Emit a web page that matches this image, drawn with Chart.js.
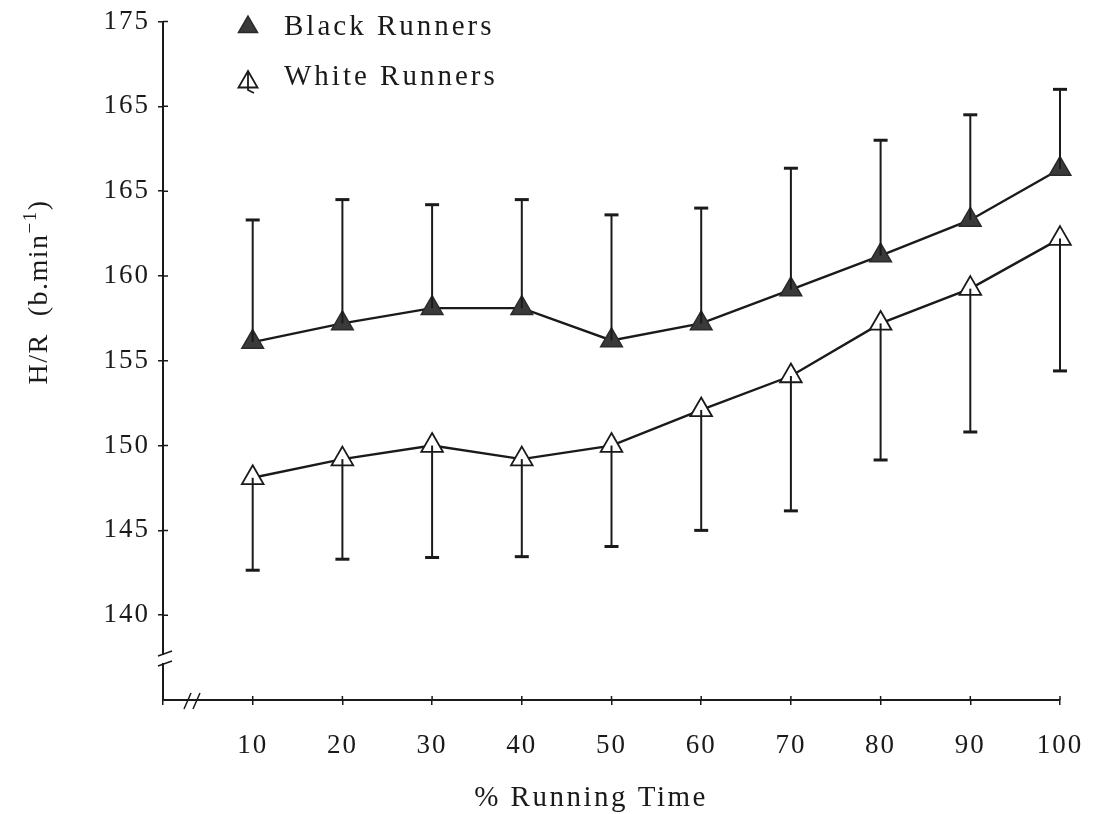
<!DOCTYPE html>
<html>
<head>
<meta charset="utf-8">
<script src="https://cdn.jsdelivr.net/npm/chart.js@4.4.1/dist/chart.umd.min.js"></script>
<style>
html, body { margin: 0; padding: 0; background: #fff; }
#wrap { width: 1108px; height: 814px; }
</style>
</head>
<body>
<div id="wrap"><canvas id="hr-chart" width="1108" height="814"></canvas></div>
<script>
// % running time
const runTime = [10, 20, 30, 40, 50, 60, 70, 80, 90, 100];

// heart rate means and SD (b.min-1)
const blackMean = [156.1, 157.2, 158.1, 158.1, 156.2, 157.2, 159.2, 161.2, 163.3, 166.3];
const blackSD = [7.2, 7.3, 6.1, 6.4, 7.4, 6.8, 7.15, 6.8, 6.2, 4.7];
const whiteMean = [148.1, 149.2, 150.0, 149.2, 150.0, 152.1, 154.1, 157.2, 159.25, 162.2];
const whiteSD = [5.45, 5.9, 6.6, 5.75, 5.95, 7.1, 7.95, 8.05, 8.45, 7.8];

// y tick labels as printed on the figure
const yTickValues = [140, 145, 150, 155, 160, 165, 170, 175];
const yTickLabels = ['140', '145', '150', '155', '160', '165', '165', '175'];

const xTitle = '% Running Time';
const yTitle = ['H/R  (b.min', '\u22121', ')'];

const serif = "'Liberation Serif', 'DejaVu Serif', serif";
const ink = '#1a1a1a';

function toPoints(means) {
    return runTime.map((t, i) => ({ x: t, y: means[i] }));
}

// error bars: black upward, white downward
const errorBars = {
    id: 'errorBars',
    afterDatasetsDraw(chart) {
        const ctx = chart.ctx;
        const ys = chart.scales.y;
        const xs = chart.scales.x;
        const sets = [
            { mean: blackMean, sd: blackSD, dir: 1 },
            { mean: whiteMean, sd: whiteSD, dir: -1 }
        ];
        ctx.save();
        ctx.strokeStyle = ink;
        sets.forEach(s => {
            runTime.forEach((t, i) => {
                const px = xs.getPixelForValue(t);
                const y0 = ys.getPixelForValue(s.mean[i]);
                const y1 = ys.getPixelForValue(s.mean[i] + s.dir * s.sd[i]);
                ctx.lineWidth = 2;
                ctx.beginPath();
                ctx.moveTo(px, y0);
                ctx.lineTo(px, y1);
                ctx.stroke();
                ctx.lineWidth = 3;
                ctx.beginPath();
                ctx.moveTo(px - 7, y1);
                ctx.lineTo(px + 7, y1);
                ctx.stroke();
            });
        });
        ctx.restore();
    }
};

// axis titles, breaks, inner tick halves and legend
const decorations = {
    id: 'decorations',
    beforeLayout(chart) { chart.ctx.letterSpacing = '2px'; },
    beforeDraw(chart) { chart.ctx.letterSpacing = '2px'; },
    afterDraw(chart) {
        const ctx = chart.ctx;
        const area = chart.chartArea;
        const xs = chart.scales.x;
        const ys = chart.scales.y;
        ctx.save();
        ctx.strokeStyle = ink;
        ctx.lineWidth = 1.5;

        // tick marks crossing into the plot
        ctx.beginPath();
        yTickValues.forEach(v => {
            const py = ys.getPixelForValue(v);
            ctx.moveTo(area.left, py); ctx.lineTo(area.left + 5, py);
        });
        xs.ticks.forEach(t => {
            const px = xs.getPixelForValue(t.value);
            ctx.moveTo(px, area.bottom); ctx.lineTo(px, area.bottom - 4);
        });
        ctx.stroke();

        // y axis break
        const ax = area.left;
        ctx.fillStyle = '#fff';
        ctx.fillRect(ax - 3, 655, 6, 8);
        ctx.beginPath();
        ctx.moveTo(ax - 5, 656); ctx.lineTo(ax + 9, 651);
        ctx.moveTo(ax - 5, 666); ctx.lineTo(ax + 9, 661);
        ctx.stroke();
        // x axis break
        const by = area.bottom;
        ctx.beginPath();
        ctx.moveTo(184, by + 9); ctx.lineTo(191, by - 7);
        ctx.moveTo(193, by + 9); ctx.lineTo(200, by - 7);
        ctx.stroke();

        // x title
        ctx.fillStyle = ink;
        ctx.font = '29px ' + serif;
        ctx.letterSpacing = '2.5px';
        ctx.textBaseline = 'alphabetic';
        ctx.textAlign = 'center';
        ctx.fillText(xTitle, 591, 806);

        // y title with superscript, rotated
        ctx.save();
        ctx.translate(47, 292);
        ctx.rotate(-Math.PI / 2);
        ctx.textAlign = 'left';
        ctx.letterSpacing = '1.5px';
        const big = '28px ' + serif;
        const small = '19px ' + serif;
        ctx.font = big;
        const w0 = ctx.measureText(yTitle[0]).width;
        const w2 = ctx.measureText(yTitle[2]).width;
        ctx.font = small;
        const w1 = ctx.measureText(yTitle[1]).width;
        let x = -(w0 + w1 + w2) / 2;
        ctx.font = big;
        ctx.fillText(yTitle[0], x, 0);
        x += w0;
        ctx.font = small;
        ctx.fillText(yTitle[1], x, -11);
        x += w1;
        ctx.font = big;
        ctx.fillText(yTitle[2], x, 0);
        ctx.restore();

        // legend
        const ds = chart.data.datasets;
        const rows = [{ y: 27, ty: 27 }, { y: 82, ty: 77 }];
        ctx.font = '29px ' + serif;
        ctx.letterSpacing = '3px';
        ctx.textBaseline = 'middle';
        ctx.textAlign = 'left';
        rows.forEach((r, i) => {
            const d = ds[i];
            ctx.fillStyle = d.pointBackgroundColor;
            ctx.strokeStyle = d.pointBorderColor;
            ctx.lineWidth = d.pointBorderWidth;
            Chart.helpers.drawPoint(ctx, { pointStyle: 'triangle', radius: 11, rotation: 0, borderWidth: d.pointBorderWidth }, 248, r.y);
            if (i === 1) {
                ctx.beginPath();
                ctx.moveTo(248, r.y - 9);
                ctx.lineTo(248, r.y + 8);
                ctx.lineTo(254, r.y + 11);
                ctx.stroke();
            }
            ctx.fillStyle = ink;
            ctx.fillText(d.label, 284, r.ty);
        });
        ctx.restore();
    }
};

const ctx = document.getElementById('hr-chart').getContext('2d');
new Chart(ctx, {
    type: 'line',
    data: {
        datasets: [{
            label: 'Black Runners',
            data: toPoints(blackMean),
            borderColor: ink,
            borderWidth: 2.4,
            pointStyle: 'triangle',
            pointRadius: 12.5,
            pointBackgroundColor: '#3a3a3a',
            pointBorderColor: '#2a2a2a',
            pointBorderWidth: 1.5,
            tension: 0,
            clip: false
        }, {
            label: 'White Runners',
            data: toPoints(whiteMean),
            borderColor: ink,
            borderWidth: 2.4,
            pointStyle: 'triangle',
            pointRadius: 12.5,
            pointBackgroundColor: '#ffffff',
            pointBorderColor: ink,
            pointBorderWidth: 1.8,
            tension: 0,
            clip: false
        }]
    },
    options: {
        responsive: false,
        animation: false,
        devicePixelRatio: 1,
        layout: { padding: { top: 19, right: 48, left: 0, bottom: 0 } },
        plugins: {
            legend: { display: false },
            tooltip: { enabled: false }
        },
        scales: {
            x: {
                type: 'linear',
                min: 0,
                max: 100,
                border: { color: ink, width: 2 },
                grid: { drawOnChartArea: false, color: ink, lineWidth: 1.5, tickLength: 5 },
                ticks: {
                    stepSize: 10,
                    color: ink,
                    padding: 27,
                    maxRotation: 0,
                    font: { family: serif, size: 27, lineHeight: 1.0 },
                    callback: v => (v === 0 ? '' : String(v))
                },
                afterFit(scale) {
                    scale.height = 114;
                    scale.paddingLeft = 0;
                    scale.paddingRight = 0;
                }
            },
            y: {
                type: 'linear',
                min: 135,
                max: 175,
                border: { color: ink, width: 2 },
                grid: { drawOnChartArea: false, color: ink, lineWidth: 1.5, tickLength: 5 },
                ticks: {
                    stepSize: 5,
                    color: ink,
                    padding: 8,
                    font: { family: serif, size: 27, lineHeight: 1.0 },
                    callback: v => {
                        const k = yTickValues.indexOf(v);
                        return k < 0 ? null : yTickLabels[k];
                    }
                },
                afterFit(scale) { scale.width = 163; }
            }
        }
    },
    plugins: [errorBars, decorations]
});
</script>
</body>
</html>
